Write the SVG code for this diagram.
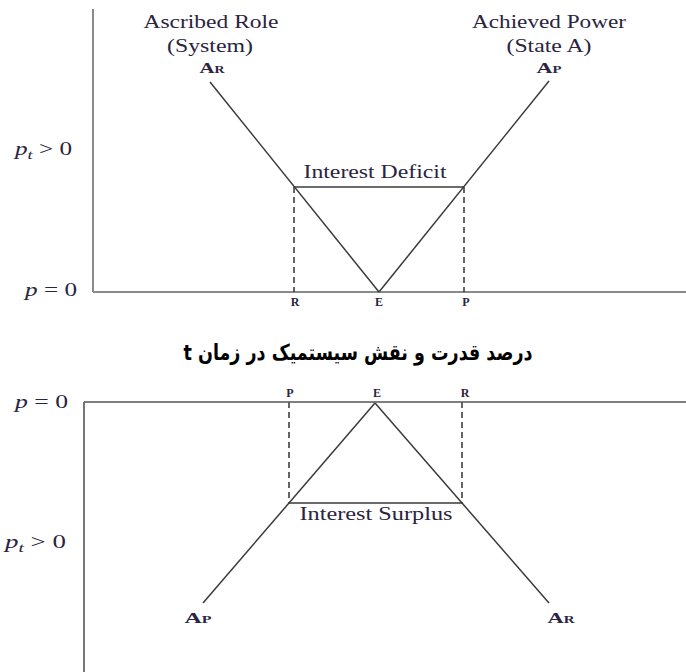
<svg xmlns="http://www.w3.org/2000/svg" width="686" height="672" viewBox="0 0 686 672">
<style>
.bg{fill:#fff}
.axis{stroke:#8a8a8a;stroke-width:2;fill:none}
.axis2{stroke:#555;stroke-width:1.6;fill:none}
.ln{stroke:#3a3a3a;stroke-width:1.5;fill:none}
.dash{stroke:#333;stroke-width:1.5;stroke-dasharray:6,4;fill:none}
.t{font-family:"Liberation Serif","Times New Roman",serif;fill:#2a2440}
.lab{font-size:19px;text-anchor:middle}
.ar{font-size:15px;font-weight:bold;text-anchor:middle}
.tick{font-size:12px;font-weight:bold;text-anchor:middle}
.ax{font-size:18px;font-style:italic}
.fa{font-family:"DejaVu Sans","Noto Sans",sans-serif;font-weight:bold;font-size:22px;fill:#000;text-anchor:middle}
</style>
<rect class="bg" x="0" y="0" width="686" height="672"/>

<g id="top-chart">
  <g id="top-axes">
    <line class="axis" x1="93" y1="9" x2="93" y2="292"/>
    <line class="axis" x1="93" y1="292" x2="686" y2="292"/>
    <text class="t ax" x="15" y="155" textLength="57" lengthAdjust="spacingAndGlyphs">p<tspan font-size="13" dy="4">t</tspan><tspan font-style="normal" dy="-4"> &gt; 0</tspan></text>
    <text class="t ax" x="25" y="296" textLength="52" lengthAdjust="spacingAndGlyphs">p<tspan font-style="normal"> = 0</tspan></text>
  </g>
  <g id="node-ascribed">
    <text class="t lab" x="211" y="28" textLength="135" lengthAdjust="spacingAndGlyphs">Ascribed Role</text>
    <text class="t lab" x="210" y="52" textLength="86" lengthAdjust="spacingAndGlyphs">(System)</text>
    <text class="t ar" x="212" y="73" textLength="25" lengthAdjust="spacingAndGlyphs">A<tspan font-size="10">R</tspan></text>
  </g>
  <g id="node-achieved">
    <text class="t lab" x="549" y="28" textLength="154" lengthAdjust="spacingAndGlyphs">Achieved Power</text>
    <text class="t lab" x="549" y="52" textLength="85" lengthAdjust="spacingAndGlyphs">(State A)</text>
    <text class="t ar" x="549" y="73" textLength="25" lengthAdjust="spacingAndGlyphs">A<tspan font-size="10">P</tspan></text>
  </g>
  <g id="node-deficit">
    <text class="t lab" x="375" y="178" textLength="143" lengthAdjust="spacingAndGlyphs">Interest Deficit</text>
  </g>
  <g id="top-ticks">
    <text class="t tick" x="295" y="306">R</text>
    <text class="t tick" x="379" y="306">E</text>
    <text class="t tick" x="466" y="306">P</text>
  </g>
</g>

<g id="connectors">
  <line class="ln" x1="210" y1="82" x2="379" y2="292"/>
  <line class="ln" x1="379" y1="292" x2="549" y2="81"/>
  <line class="ln" x1="294" y1="187" x2="464" y2="187"/>
  <line class="dash" x1="294" y1="187" x2="294" y2="292"/>
  <line class="dash" x1="464" y1="187" x2="464" y2="292"/>

  <line class="ln" x1="375" y1="403" x2="203" y2="603"/>
  <line class="ln" x1="375" y1="403" x2="549" y2="603"/>
  <line class="ln" x1="289" y1="503" x2="462" y2="503"/>
  <line class="dash" x1="289" y1="402" x2="289" y2="503"/>
  <line class="dash" x1="462" y1="402" x2="462" y2="503"/>
</g>

<g id="title">
  <text class="fa" x="358" y="360" direction="rtl" textLength="349" lengthAdjust="spacingAndGlyphs">درصد قدرت و نقش سیستمیک در زمان t</text>
</g>

<g id="bottom-chart">
  <g id="bottom-axes">
    <line class="axis2" x1="84" y1="402" x2="686" y2="402"/>
    <line class="axis2" x1="84" y1="402" x2="84" y2="672"/>
    <text class="t ax" x="15" y="408" textLength="53" lengthAdjust="spacingAndGlyphs">p<tspan font-style="normal"> = 0</tspan></text>
    <text class="t ax" x="5" y="548" textLength="61" lengthAdjust="spacingAndGlyphs">p<tspan font-size="13" dy="4">t</tspan><tspan font-style="normal" dy="-4"> &gt; 0</tspan></text>
  </g>
  <g id="bottom-ticks">
    <text class="t tick" x="290" y="397">P</text>
    <text class="t tick" x="377" y="397">E</text>
    <text class="t tick" x="465" y="397">R</text>
  </g>
  <g id="node-surplus">
    <text class="t lab" x="376" y="520" textLength="153" lengthAdjust="spacingAndGlyphs">Interest Surplus</text>
  </g>
  <g id="node-ap">
    <text class="t ar" x="198" y="623" textLength="27" lengthAdjust="spacingAndGlyphs">A<tspan font-size="10">P</tspan></text>
  </g>
  <g id="node-ar">
    <text class="t ar" x="561" y="623" textLength="27" lengthAdjust="spacingAndGlyphs">A<tspan font-size="10">R</tspan></text>
  </g>
</g>
</svg>
